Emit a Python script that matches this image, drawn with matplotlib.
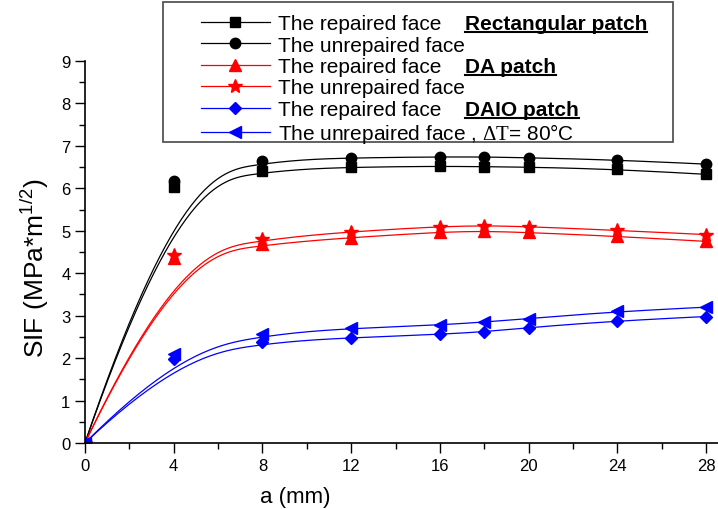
import numpy as np
import matplotlib
matplotlib.use("Agg")
import matplotlib.pyplot as plt
from matplotlib.lines import Line2D
from matplotlib.patches import Rectangle

plt.rcParams["font.family"] = ["Liberation Sans", "DejaVu Sans"]
plt.rcParams["mathtext.fontset"] = "custom"
plt.rcParams["mathtext.rm"] = "Liberation Sans"
plt.rcParams["mathtext.it"] = "Liberation Sans:italic"
plt.rcParams["mathtext.sf"] = "Liberation Serif"

# crack length (mm)
crack_a = [0, 4, 8, 12, 16, 18, 20, 24, 28]

# SIF values (MPa*m^1/2)
rect_repaired = [0, 6.02, 6.42, 6.50, 6.52, 6.51, 6.50, 6.45, 6.33]
rect_unrepaired = [0, 6.18, 6.65, 6.72, 6.74, 6.74, 6.72, 6.67, 6.57]
da_repaired = [0, 4.35, 4.68, 4.84, 4.97, 4.99, 4.96, 4.87, 4.75]
da_unrepaired = [0, 4.42, 4.80, 4.98, 5.10, 5.12, 5.10, 5.01, 4.91]
daio_repaired = [0, 1.98, 2.37, 2.48, 2.56, 2.62, 2.72, 2.88, 2.98]
daio_unrepaired = [0, 2.10, 2.56, 2.70, 2.78, 2.85, 2.93, 3.10, 3.20]

labels = [
    "The repaired face",
    "The unrepaired face",
    "The repaired face",
    "The unrepaired face",
    "The repaired face",
    r"The unrepaired face , $\mathsf{\Delta T}$= 80°C",
]
patch_names = ["Rectangular patch", "DA patch", "DAIO patch"]


def bspline(xs, ys, n=400):
    """Clamped cubic B-spline using the data points as control points."""
    pts = np.column_stack([xs, ys]).astype(float)
    k = 3
    m = len(pts)
    knots = np.concatenate([np.zeros(k), np.arange(m - k + 1), np.full(k, m - k)])
    knots = knots.astype(float)
    t = np.linspace(0, m - k, n)
    t[-1] -= 1e-9

    def basis(i, p, t):
        if p == 0:
            return ((knots[i] <= t) & (t < knots[i + 1])).astype(float)
        out = np.zeros_like(t)
        d1 = knots[i + p] - knots[i]
        d2 = knots[i + p + 1] - knots[i + 1]
        if d1 > 0:
            out += (t - knots[i]) / d1 * basis(i, p - 1, t)
        if d2 > 0:
            out += (knots[i + p + 1] - t) / d2 * basis(i + 1, p - 1, t)
        return out

    curve = np.zeros((n, 2))
    for i in range(m):
        curve += basis(i, k, t)[:, None] * pts[i]
    return curve[:, 0], curve[:, 1]


fig = plt.figure(figsize=(7.18, 5.10), dpi=100)
ax = fig.add_axes([85 / 718, 66 / 510, 633 / 718, 382 / 510])

series = [
    (rect_repaired, "black", "s", 7),
    (rect_unrepaired, "black", "o", 7.5),
    (da_repaired, "red", "^", 8.5),
    (da_unrepaired, "red", "*", 10),
    (daio_repaired, "blue", "D", 6.5),
    (daio_unrepaired, "blue", "<", 8.5),
]

handles = []
for (vals, color, marker, ms), label in zip(series, labels):
    sx, sy = bspline(crack_a, vals)
    ax.plot(sx, sy, color=color, lw=0.9)
    ax.plot(crack_a, vals, ls="none", marker=marker, ms=ms, color=color, mec=color)
    handles.append(Line2D([], [], color=color, lw=0.9, marker=marker, ms=ms,
                          mec=color, label=label))

ax.set_xlim(0, 633 / (621 / 28))
ax.set_ylim(0, 9)
ax.set_xticks(range(0, 29, 4))
ax.set_yticks(range(0, 10))
ax.set_xticks(range(0, 29, 2), minor=True)
ax.set_yticks(np.arange(0, 9.01, 0.5), minor=True)
ax.tick_params(which="major", direction="out", length=7, width=1, labelsize=12)
ax.tick_params(which="minor", direction="out", length=4, width=1)
for side in ["top", "right"]:
    ax.spines[side].set_visible(False)
for side in ["left", "bottom"]:
    ax.spines[side].set_linewidth(1.2)

ax.set_xlabel("a (mm)", fontsize=16)
ax.xaxis.set_label_coords((295 - 85) / 633, -43 / 382)
ax.set_ylabel(r"SIF (MPa*m$^{1/2}$)", fontsize=19)
ax.yaxis.set_label_coords(-34 / 633, 0.46)

# legend frame and entries
fig.patches.append(Rectangle((163 / 718, 1 - 143 / 510), 510 / 718, 140 / 510,
                             transform=fig.transFigure, fill=False,
                             edgecolor="#555555", lw=1.3, zorder=5))
leg = fig.legend(handles=handles, loc="upper left",
                 bbox_to_anchor=(201 / 718, 1 - 15 / 510), frameon=False,
                 fontsize=15, handlelength=3.3, handletextpad=0.4,
                 labelspacing=0.12, borderpad=0, borderaxespad=0, numpoints=1)

fig.canvas.draw()
renderer = fig.canvas.get_renderer()
inv = fig.transFigure.inverted()
texts = leg.get_texts()
for row, name in zip([0, 2, 4], patch_names):
    bb = texts[row].get_window_extent(renderer)
    ymid = inv.transform(((bb.x0 + bb.x1) / 2, (bb.y0 + bb.y1) / 2))[1]
    t = fig.text(465 / 718, ymid, name, fontsize=15, fontweight="bold",
                 va="center", ha="left")
    tb = t.get_window_extent(renderer)
    (x0, y0), (x1, _) = inv.transform([(tb.x0, tb.y0), (tb.x1, tb.y1)])
    fig.add_artist(Line2D([x0, x1], [y0 + 0.002, y0 + 0.002],
                          transform=fig.transFigure, color="black", lw=1.5))

fig.savefig("out.png", dpi=100)
